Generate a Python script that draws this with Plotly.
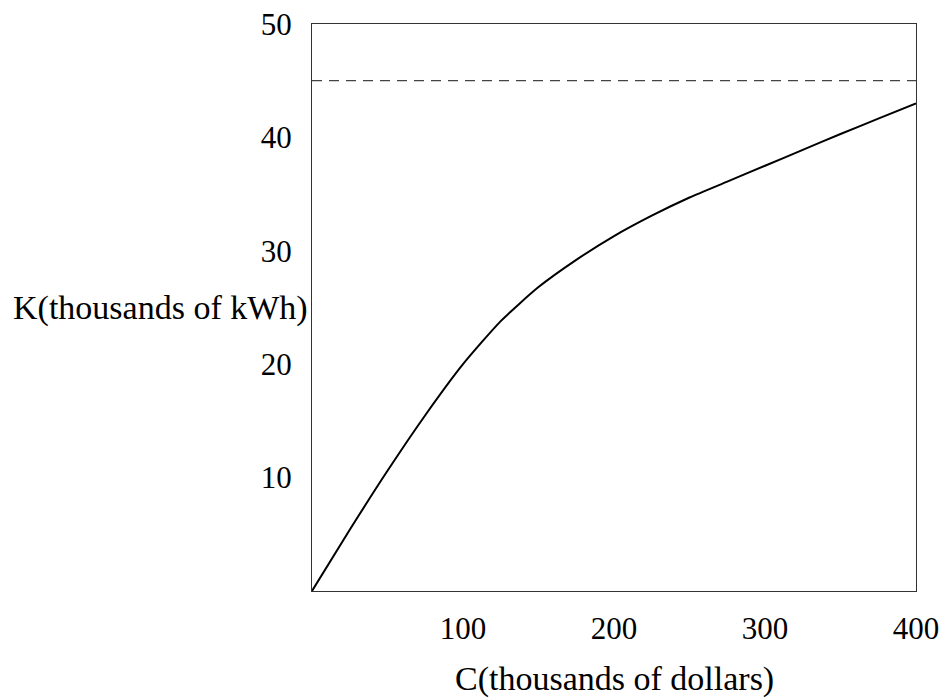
import plotly.graph_objects as go

# Data
cost = [0, 25, 50, 75, 100, 125, 150, 175, 200, 225, 250, 275, 300, 325, 350, 375, 400]
energy = [0, 5.4, 10.6, 15.5, 20.0, 23.8, 26.8, 29.2, 31.3, 33.1, 34.7, 36.1, 37.5, 38.9, 40.3, 41.65, 43.0]
asymptote_x = [0, 400]
asymptote_y = [45, 45]

x_ticks = [100, 200, 300, 400]
y_ticks = [10, 20, 30, 40, 50]

FONT = "Liberation Serif"

fig = go.Figure()
fig.add_trace(go.Scatter(
    x=asymptote_x, y=asymptote_y, mode="lines",
    line=dict(color="#444", width=1.2, dash="10px,7px"),
    showlegend=False, hoverinfo="skip"))
fig.add_trace(go.Scatter(
    x=cost, y=energy, mode="lines",
    line=dict(color="black", width=2, shape="spline", smoothing=0.6),
    showlegend=False))

fig.update_layout(
    template="none",
    width=942, height=698,
    margin=dict(l=312, r=26, t=24, b=107),
    paper_bgcolor="white", plot_bgcolor="white",
    font=dict(family=FONT, color="black", size=31),
    xaxis=dict(range=[0, 400], tickvals=x_ticks, ticktext=[str(v) for v in x_ticks],
               automargin=False,
               showgrid=False, zeroline=False, showline=True, mirror=True,
               linecolor="#333", linewidth=1, ticks="", ticklabelstandoff=10,
               tickfont=dict(family=FONT, size=31, color="black")),
    yaxis=dict(range=[0, 50.0001], tickvals=y_ticks, ticktext=[str(v) for v in y_ticks],
               automargin=False,
               showgrid=False, zeroline=False, showline=True, mirror=True,
               linecolor="#333", linewidth=1, ticks="", ticklabelstandoff=13,
               tickfont=dict(family=FONT, size=31, color="black")),
    annotations=[
        dict(text="K(thousands of kWh)", xref="paper", yref="paper", x=0, y=0.5,
             xanchor="right", yanchor="middle", xshift=-2, showarrow=False,
             font=dict(family=FONT, size=34, color="black")),
        dict(text="C(thousands of dollars)", xref="paper", yref="paper", x=0.5, y=0,
             xanchor="center", yanchor="middle", yshift=-88, showarrow=False,
             font=dict(family=FONT, size=34, color="black")),
    ],
)

fig.write_html("out.html",
               config={"displayModeBar": False},
               post_script="document.body.style.margin='0';document.body.style.overflow='hidden';")
